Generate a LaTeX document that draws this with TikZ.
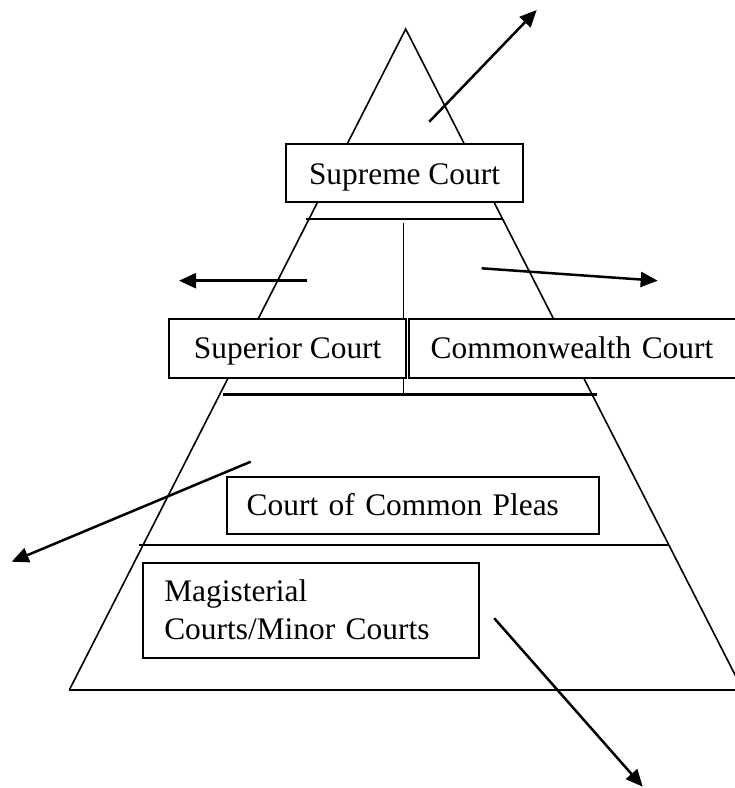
\documentclass[tikz,border=0pt]{standalone}
\usepackage{fontspec}
\setmainfont{Liberation Serif}
\usetikzlibrary{arrows.meta}
\begin{document}
\begin{tikzpicture}[x=1pt,y=-1pt,
  side/.style={line width=1.6pt},
  tier/.style={line width=2.2pt},
  courtbox/.style={draw, fill=white, line width=2pt, anchor=north west,
    inner ysep=0pt, outer sep=0pt, font=\fontsize{31.4}{37.6}\selectfont},
  flow/.style={line width=2.5pt, -{Triangle[length=17pt,width=15pt]}}]
\useasboundingbox (0,0) rectangle (735,788);
\clip (0,0) rectangle (735,788);
% pyramid outline
\coordinate (apex) at (405.7,29);
\coordinate (bl) at (69.3,690);
\coordinate (br) at (742.8,690);
\coordinate (brx) at (750,690);
\draw[side, line join=miter] (bl) -- (apex) -- (br);
% tier lines
\coordinate (t1l) at (305.7,219);   \coordinate (t1r) at (501.7,219);
\coordinate (t2l) at (222.7,394.5); \coordinate (t2r) at (596.7,394.5);
\coordinate (t3l) at (139.3,545);   \coordinate (t3r) at (668.3,545);
\coordinate (vt) at (403.3,223);    \coordinate (vb) at (403.3,394.5);
\draw[tier] (t1l) -- (t1r);
\draw[tier] (t2l) -- (t2r);
\draw[tier] (t3l) -- (t3r);
\draw[tier] (bl) -- (brx);
\draw[side] (vt) -- (vb);
% boxes
\node[courtbox, minimum width=237.6pt, inner xsep=0pt,
  text height=40.3pt, text depth=18pt] (supreme) at (285.7,144) {Supreme Court};
\node[courtbox, minimum width=237.3pt, inner xsep=0pt,
  text height=39pt, text depth=19.4pt] (superior) at (169,319.3) {Superior Court};
\node[courtbox, text width=310pt, inner xsep=21.4pt, align=left,
  text height=39.5pt, text depth=18.9pt] (commonwealth) at (409.3,319.3) {Commonwealth Court};
\node[courtbox, text width=332.3pt, inner xsep=20pt, align=left,
  text height=39pt, text depth=18.3pt] (pleas) at (226.7,476.7) {Court of Common Pleas};
\node[courtbox, text width=293.4pt, inner xsep=21.6pt, align=left,
  text height=39pt, text depth=56pt] (minor) at (142.7,562.7) {Magisterial\\Courts/Minor Courts};
% arrows
\coordinate (a1s) at (429.3,121.7); \coordinate (a1e) at (536.7,10);
\coordinate (a2s) at (306.7,280.7); \coordinate (a2e) at (179,280.7);
\coordinate (a3s) at (481.7,268.3); \coordinate (a3e) at (657.7,280.7);
\coordinate (a4s) at (250.7,461.7); \coordinate (a4e) at (11.7,561.7);
\coordinate (a5s) at (494.3,618.3); \coordinate (a5e) at (642.7,786.7);
\draw[flow] (a1s) -- (a1e);
\draw[flow] (a2s) -- (a2e);
\draw[flow] (a3s) -- (a3e);
\draw[flow] (a4s) -- (a4e);
\draw[flow] (a5s) -- (a5e);
\end{tikzpicture}
\end{document}
